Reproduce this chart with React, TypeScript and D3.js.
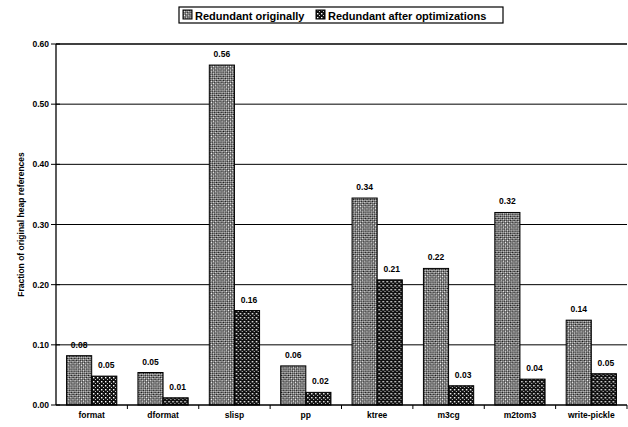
import React from 'react'
import * as d3 from 'd3'

const categories = ['format', 'dformat', 'slisp', 'pp', 'ktree', 'm3cg', 'm2tom3', 'write-pickle']
const seriesNames = ['Redundant originally', 'Redundant after optimizations']
const originally = [0.082, 0.054, 0.565, 0.065, 0.344, 0.227, 0.32, 0.141]
const afterOpt = [0.048, 0.012, 0.157, 0.021, 0.208, 0.032, 0.043, 0.052]
const origLabels = ['0.08', '0.05', '0.56', '0.06', '0.34', '0.22', '0.32', '0.14']
const afterLabels = ['0.05', '0.01', '0.16', '0.02', '0.21', '0.03', '0.04', '0.05']
const yTicks = [0, 0.1, 0.2, 0.3, 0.4, 0.5, 0.6]

const W = 628
const H = 427
const left = 56
const right = 627
const top = 44
const bottom = 405
const font = '"Liberation Sans", Arial, Helvetica, sans-serif'

export default function App() {
  const x = d3.scaleBand().domain(categories).range([left, right]).paddingInner(0).paddingOuter(0)
  const inner = d3.scaleBand().domain(seriesNames).range([0, x.bandwidth()]).paddingInner(0).paddingOuter(0.42)
  const y = d3.scaleLinear().domain([0, 0.6]).range([bottom, top])
  const fmt = d3.format('.2f')
  const fills = ['url(#hatchOrig)', 'url(#dotAfter)']

  const rows = categories.map((c, i) => ({
    cat: c,
    vals: [originally[i], afterOpt[i]],
    labels: [origLabels[i], afterLabels[i]],
  }))

  return (
    <svg width={W} height={H} style={{ position: 'absolute', left: 0, top: 0, background: '#fff' }}>
      <defs>
        <pattern id="hatchOrig" patternUnits="userSpaceOnUse" width="3" height="3" patternTransform="rotate(45)">
          <rect width="3" height="3" fill="#111" />
          <rect width="1.5" height="1.5" fill="#fff" />
          <rect x="1.5" y="1.5" width="1.5" height="1.5" fill="#ddd" />
        </pattern>
        <pattern id="dotAfter" patternUnits="userSpaceOnUse" width="4" height="4">
          <rect width="4" height="4" fill="#111" />
          <rect x="1" y="1" width="1.4" height="1.4" fill="#fff" />
          <rect x="3" y="3" width="1" height="1" fill="#ccc" />
        </pattern>
      </defs>

      {/* legend */}
      <g fontFamily={font} fontWeight="bold" fontSize="11">
        <rect x={179} y={7} width={324} height={16} fill="#fff" stroke="#000" strokeWidth={1.2} />
        <rect x={183} y={10} width={9} height={9} fill={fills[0]} stroke="#000" />
        <text x={195} y={19.5}>{seriesNames[0]}</text>
        <rect x={316} y={10} width={9} height={9} fill={fills[1]} stroke="#000" />
        <text x={328} y={19.5}>{seriesNames[1]}</text>
      </g>

      {/* grid lines */}
      {yTicks.filter(t => t > 0).map(t => (
        <line key={t} x1={left} x2={right} y1={y(t)} y2={y(t)} stroke="#000" strokeWidth={t === 0.6 ? 1.6 : 1} />
      ))}

      {/* y axis */}
      <line x1={left} x2={left} y1={top} y2={bottom} stroke="#000" strokeWidth={1.3} />
      {yTicks.map(t => (
        <g key={t}>
          <line x1={left - 5} x2={left + 4} y1={y(t)} y2={y(t)} stroke="#000" />
          <text x={left - 7} y={y(t) + 3} textAnchor="end" fontFamily={font} fontWeight="bold" fontSize="8.5">
            {fmt(t)}
          </text>
        </g>
      ))}
      <text
        transform={`translate(24,${(top + bottom) / 2}) rotate(-90)`}
        textAnchor="middle"
        fontFamily={font}
        fontWeight="bold"
        fontSize="8.5"
      >
        Fraction of original heap references
      </text>

      {/* bars */}
      {rows.map(r => (
        <g key={r.cat} transform={`translate(${x(r.cat)},0)`}>
          {r.vals.map((v, j) => (
            <rect
              key={j}
              x={inner(seriesNames[j])}
              y={y(v)}
              width={inner.bandwidth()}
              height={bottom - y(v)}
              fill={fills[j]}
              stroke="#000"
              strokeWidth={1}
            />
          ))}
          {r.vals.map((v, j) => (
            <text
              key={'l' + j}
              x={(inner(seriesNames[j]) as number) + inner.bandwidth() / 2 + (j === 1 ? 2 : 0)}
              y={y(v) - 8}
              textAnchor="middle"
              fontFamily={font}
              fontWeight="bold"
              fontSize="8.5"
            >
              {r.labels[j]}
            </text>
          ))}
        </g>
      ))}

      {/* x axis */}
      <line x1={left} x2={right} y1={bottom} y2={bottom} stroke="#000" strokeWidth={1.5} />
      {categories.map(c => (
        <g key={c}>
          <line x1={(x(c) as number) + x.bandwidth()} x2={(x(c) as number) + x.bandwidth()} y1={bottom} y2={bottom + 4} stroke="#000" />
          <text
            x={(x(c) as number) + x.bandwidth() / 2}
            y={bottom + 13}
            textAnchor="middle"
            fontFamily={font}
            fontWeight="bold"
            fontSize="8.5"
          >
            {c}
          </text>
        </g>
      ))}
    </svg>
  )
}
